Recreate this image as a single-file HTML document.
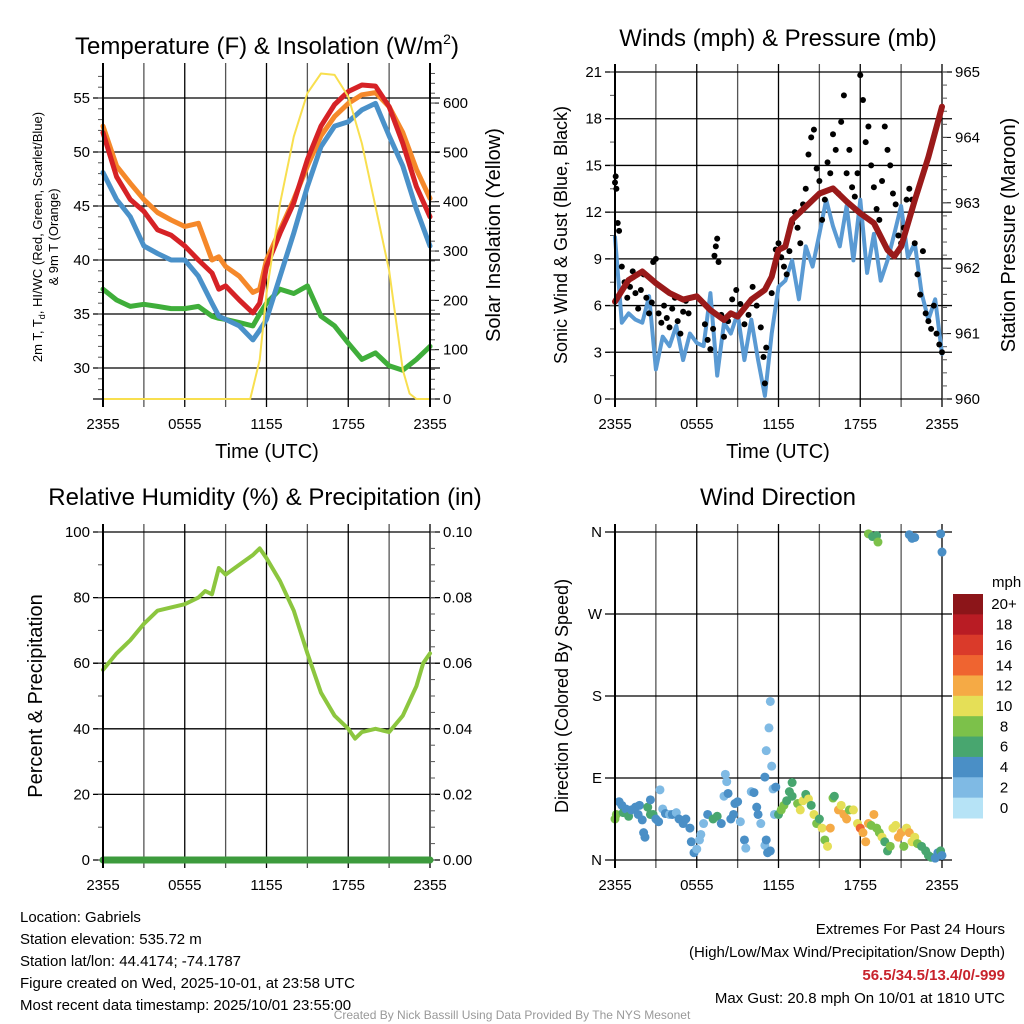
<!DOCTYPE html>
<html><head><meta charset="utf-8">
<style>
html,body{margin:0;padding:0;background:#fff;}
svg{display:block;font-family:"Liberation Sans",Arial,sans-serif;}
</style></head>
<body>
<svg id="fig" width="1024" height="1024" viewBox="0 0 1024 1024" xmlns="http://www.w3.org/2000/svg">
<rect width="1024" height="1024" fill="#fff"/>
<g id="layer"></g>
<text x="267" y="54" font-size="24" text-anchor="middle">Temperature (F) &amp; Insolation (W/m<tspan font-size="14" dy="-10">2</tspan><tspan dy="10">)</tspan></text>
<text x="778" y="46" font-size="24" text-anchor="middle">Winds (mph) &amp; Pressure (mb)</text>
<text x="265" y="505" font-size="24" text-anchor="middle">Relative Humidity (%) &amp; Precipitation (in)</text>
<text x="778" y="505" font-size="24" text-anchor="middle">Wind Direction</text>
<text x="267" y="458" font-size="20" text-anchor="middle">Time (UTC)</text>
<text x="778" y="458" font-size="20" text-anchor="middle">Time (UTC)</text>
<g font-size="13" text-anchor="middle">
<text transform="translate(42,237) rotate(-90)">2m T, T<tspan font-size="9" dy="3">d</tspan><tspan dy="-3">, HI/WC (Red, Green, Scarlet/Blue)</tspan></text>
<text transform="translate(58,237) rotate(-90)">&amp; 9m T (Orange)</text>
</g>
<text transform="translate(500,235) rotate(-90)" font-size="20" text-anchor="middle">Solar Insolation (Yellow)</text>
<text transform="translate(567,235) rotate(-90)" font-size="18" text-anchor="middle">Sonic Wind &amp; Gust (Blue, Black)</text>
<text transform="translate(1015,235) rotate(-90)" font-size="20" text-anchor="middle">Station Pressure (Maroon)</text>
<text transform="translate(42,696) rotate(-90)" font-size="20" text-anchor="middle">Percent &amp; Precipitation</text>
<text transform="translate(568,696) rotate(-90)" font-size="18" text-anchor="middle">Direction (Colored By Speed)</text>
<g font-size="15">
<text x="20" y="922">Location: Gabriels</text>
<text x="20" y="944">Station elevation: 535.72 m</text>
<text x="20" y="966">Station lat/lon: 44.4174; -74.1787</text>
<text x="20" y="988">Figure created on Wed, 2025-10-01, at 23:58 UTC</text>
<text x="20" y="1010">Most recent data timestamp: 2025/10/01 23:55:00</text>
</g>
<g font-size="15" text-anchor="end">
<text x="1005" y="934">Extremes For Past 24 Hours</text>
<text x="1005" y="957">(High/Low/Max Wind/Precipitation/Snow Depth)</text>
<text x="1005" y="980" fill="#c8232c" font-weight="bold">56.5/34.5/13.4/0/-999</text>
<text x="1005" y="1003">Max Gust: 20.8 mph On 10/01 at 1810 UTC</text>
</g>
<text x="512" y="1019" font-size="12" fill="#999" text-anchor="middle">Created By Nick Bassill Using Data Provided By The NYS Mesonet</text>
</svg>
<script>
// ---------- data ----------
const xTickLabels = ["2355","0555","1155","1755","2355"];
const tempHours = [0,1,2,3,4,5,6,7,8,8.5,9,10,11,11.5,12,13,14,15,16,17,18,19,20,21,22,23,24];
const tempRed    = [51.8,47.7,45.6,44.5,42.8,42.3,41.3,40,38.8,37.3,37.6,36.3,35.1,36,39.4,42.5,45.3,49.3,52.4,54.4,55.6,56.2,56.1,54.2,50.8,46.8,44];
const tempOrange = [52.4,48.7,47.1,45.6,44.4,43.7,43.1,43.4,40,40.3,39.4,38.5,37,37.3,40,42.8,45.6,48.7,51.5,53.3,54.5,55.3,55.5,54.2,51.8,48.4,45.7];
const tempBlue   = [48.1,45.6,44,41.3,40.6,40,40,38.5,36,34.8,34.5,33.9,32.6,33.5,34.5,38.5,42.5,46.8,50.5,52.4,52.8,53.9,54.5,51.5,48.7,44.7,41.3];
const tempGreen  = [37.3,36.3,35.7,35.9,35.7,35.5,35.5,35.7,34.8,34.6,34.5,34.2,33.9,35,36,37.3,36.9,37.6,34.8,33.9,32.3,30.8,31.4,30.2,29.8,30.8,32];
const solarHours = [0,10.8,11.5,12,13,14,15,16,17,18,19,20,21,22,22.5,23,24];
const solarVals  = [0,0,79,214,397,532,620,660,657,613,518,390,261,59,11,0,0];
const tempTicks = [30,35,40,45,50,55];
const solarTicks = [0,100,200,300,400,500,600];

const windHours = [0,0.5,1,1.5,2,2.5,3,3.5,4,4.5,5,5.5,6,6.5,7,7.5,8,8.5,9,9.5,10,10.5,11,11.5,12,12.5,13,13.5,14,14.5,15,15.5,16,16.5,17,17.5,18,18.5,19,19.5,20,20.5,21,21.5,22,22.5,23,23.5,24];
const windSpeed = [10.4,4.9,5.5,5.1,4.9,6.6,1.9,4,3.4,4.7,2.5,4.2,3.6,3.4,6.8,1.5,4.9,4.2,5.5,2.5,5.1,2.5,0.2,4.2,7.2,7.6,8.9,6.4,9.8,8.5,10.6,12.8,11.1,9.8,12.4,8.9,12.8,8.1,10.6,7.6,8.9,10.6,12.4,9.1,10,6.8,5.1,6.4,2.9];
const gustHours = [0,0.05,0.1,0.2,0.3,0.5,0.7,0.9,1.1,1.3,1.5,1.7,1.9,2.1,2.3,2.5,2.7,2.8,3,3.2,3.4,3.6,3.8,4,4.2,4.4,4.6,4.8,5,5.2,5.4,6.6,6.8,7,7.2,7.3,7.4,7.5,7.6,7.8,8,8.3,8.6,8.9,9.2,9.5,9.8,10.1,10.4,10.7,10.9,11,11.1,11.5,11.8,12,12.2,12.4,12.6,12.8,13,13.2,13.4,13.6,13.8,14,14.2,14.4,14.6,14.8,15,15.2,15.4,15.6,15.8,16,16.2,16.4,16.6,16.8,17,17.2,17.4,17.6,17.8,18,18.2,18.4,18.6,18.8,19,19.2,19.4,19.6,19.8,20,20.2,20.4,20.6,20.8,21,21.2,21.4,21.6,21.8,22,22.2,22.4,22.6,22.8,23,23.2,23.4,23.6,23.8,24];
const gustVals  = [13.9,14.3,13.5,11.3,10.8,8.5,7.5,6.5,7.2,8.2,6.8,5.8,7,8,6.5,5.5,6.2,8.8,9,5.5,4.9,6,5.2,4.6,5.8,6.5,5,4.2,5.6,6.3,5.5,4.8,3.8,3.2,4.5,9.2,9.8,10.3,8.8,5.4,4,5,6.4,7,6.1,4.8,5.4,7.2,6,4.6,2.7,1,3.3,6.8,9.6,10,9.1,8.5,8,9.5,11.3,12,11,10,12.5,13.5,15.7,16.8,17.3,14.8,14,11.5,12.8,15.2,14.5,17,16,13.2,17.8,19.5,14.5,16,13.6,13,14.5,20.8,19.2,16.5,17.5,15,13.6,12.2,11.5,14,17.5,16,15,13.2,12.5,10.5,10,11,12.8,13.5,12.8,10,8,6.7,9.5,5.5,5,4.5,6,4.2,3.5,3.0];
const presHours = [0,1,2,3,4,5,6,7,8,8.5,9,10,11,11.5,12,12.5,13,14,15,16,17,18,19,20,20.5,21,22,23,24];
const presVals  = [961.49,961.82,961.95,961.77,961.62,961.52,961.57,961.36,961.21,961.31,961.26,961.52,961.67,961.87,962.28,962.33,962.74,962.94,963.14,963.22,963.02,962.84,962.69,962.28,962.18,962.33,963.04,963.7,964.47];
const windTicks = [0,3,6,9,12,15,18,21];
const presTicks = [960,961,962,963,964,965];

const rhHours = [0,1,2,3,4,5,6,7,7.5,8,8.5,9,10,11,11.5,12,13,14,15,16,17,18,18.5,19,20,21,22,23,23.5,24];
const rhVals  = [58,63,67,72,76,77,78,80,82,81,89,87,90,93,95,92,85,76,63,51,44,40,37,39,40,39,44,53,60,63];
const precipHours = [0,24];
const precipVals = [0,0];
const rhTicks = [0,20,40,60,80,100];
const precipTicks = ["0.00","0.02","0.04","0.06","0.08","0.10"];

const dirHours = [0,0.1,0.3,0.5,0.6,0.8,1,1.2,1.5,1.7,1.8,2,2.1,2.2,2.4,2.6,2.8,2.6,3,3.2,3.3,3.5,3.7,4,4.2,4.5,4.7,5,5.2,5.5,5.6,5.8,6,6.2,6.3,6.5,6.8,7.2,7.5,7.8,8,8.1,8.2,8.3,8.5,8.7,8.8,9,9.2,9.5,9.6,10,10.2,10.4,10.5,10.7,11,11.1,11.2,11.4,11,11.1,11.3,11.4,11.5,11.6,11.8,11.7,12,12.2,12.4,12.6,12.8,13,13,13.4,13.6,13.8,14,14.2,14.4,14.6,14.8,15,15.2,15.4,15.6,15.8,16,16.1,16.4,16.6,16.8,17,17.2,17.5,17.8,18,18.2,18.4,18.6,18.8,19,19.2,19.4,19.6,19.8,20,20.2,20.4,20.6,20.8,21,21.2,21.4,21.6,21.8,22,22.2,22.5,22.8,23,23.2,23.5,23.7,23.9,24,18.6,18.9,19.2,19.3,21.6,21.8,22,23.9,24];
const dirVals  = [45,50,64,60,52,56,48,55,58,50,60,44,30,25,58,50,50,66,45,42,77,56,51,50,50,52,45,40,45,35,20,8,12,22,28,40,50,45,48,40,70,94,86,73,45,50,62,64,42,22,13,75,74,58,50,40,16,22,8,10,91,120,145,174,103,78,80,50,50,55,60,65,75,85,70,62,55,65,72,67,60,50,40,45,35,22,15,35,68,70,55,60,50,45,55,55,40,35,30,20,40,38,50,35,30,25,20,10,15,35,38,25,30,15,35,30,20,25,18,15,10,5,3,2,8,10,5,358,355,356,349,357,353,354,358,338];
const dirSpeed = [9,8,5,4,6,5,6,4,5,5,4,4,4,4,6,6,6,4,4,4,3,3,4,3,4,3,4,4,4,4,4,4,3,3,3,3,4,6,6,4,2,2,2,4,4,4,4,4,3,4,3,3,4,4,4,3,3,4,4,4,4,2,2,2,2,2,4,2,6,8,8,6,6,6,6,8,10,10,6,10,6,10,8,6,10,8,10,12,8,6,12,10,12,12,8,10,10,14,12,12,12,8,12,8,8,10,6,6,8,10,10,12,12,8,10,12,10,10,8,6,6,6,6,4,4,6,4,8,6,6,8,4,4,4,4,4];
const dirTicks = ["N","E","S","W","N"];
const speedLabels = ["0","2","4","6","8","10","12","14","16","18","20+"];
const speedColors = ["#b6e3f6","#7fbae4","#4a8fc6","#48a66f","#7cc14a","#e5df57","#f5aa45","#ef6430","#da3a2a","#b91c24","#8c1519"];

// ---------- drawing ----------
const NS = "http://www.w3.org/2000/svg";
const layer = document.getElementById("layer");
function mk(tag, attrs, parent) {
  const e = document.createElementNS(NS, tag);
  for (const k in attrs) e.setAttribute(k, attrs[k]);
  (parent || layer).appendChild(e);
  return e;
}
function group(name) {
  const g = mk("g", {});
  
  
  return g;
}
function linScale(d0, d1, r0, r1) { return v => r0 + (v - d0) / (d1 - d0) * (r1 - r0); }
function pathFrom(xs, ys, sx, sy) {
  return xs.map((h, i) => (i ? "L" : "M") + sx(h).toFixed(1) + "," + sy(ys[i]).toFixed(1)).join(" ");
}

const P1 = {x0:103,x1:430,y0:71,y1:399};
const P2 = {x0:615,x1:942,y0:72,y1:399};
const P3 = {x0:103,x1:430,y0:532,y1:860};
const P4 = {x0:615,x1:942,y0:532,y1:860};

function frame(P, name, hLines) {
  const g = group(name + "-grid");
  const sx = linScale(0, 24, P.x0, P.x1);
  for (let h = 0; h <= 24; h += 3) {
    const l = mk("line", {x1:sx(h), x2:sx(h), y1:P.y0-8, y2:P.y1+8, stroke:(h%6===0)?"#000":"#555", "stroke-width":1.3}, g);
    
    
  }
  hLines.forEach(y => {
    const l = mk("line", {x1:P.x0-10, x2:P.x1+10, y1:y, y2:y, stroke:"#000", "stroke-width":1.3}, g);
    
    
  });
  const xl = group(name + "-x-tick-labels");
  xTickLabels.forEach((t, i) => {
    const tx = mk("text", {x:sx(i*6), y:P.y1+30, "font-size":15, "text-anchor":"middle"}, xl);
    tx.textContent = t;
    
    
  });
  return sx;
}
function leftTicks(P, vals, sy, labels, name, minorStep, d0, d1) {
  const g = group(name);
  vals.forEach((v, i) => {
    mk("line", {x1:P.x0-9, x2:P.x0, y1:sy(v), y2:sy(v), stroke:"#000", "stroke-width":1}, g);
    const t = mk("text", {x:P.x0-13, y:sy(v)+5, "font-size":15, "text-anchor":"end"}, g);
    t.textContent = labels ? labels[i] : v;
    
    
  });
  if (minorStep) for (let v = Math.ceil(d0); v <= d1; v += minorStep) mk("line", {x1:P.x0-5, x2:P.x0, y1:sy(v), y2:sy(v), stroke:"#555", "stroke-width":1}, g);
}
function rightTicks(P, vals, sy, labels, name, minorStep, d0, d1) {
  const g = group(name);
  vals.forEach((v, i) => {
    mk("line", {x1:P.x1, x2:P.x1+9, y1:sy(v), y2:sy(v), stroke:"#000", "stroke-width":1}, g);
    const t = mk("text", {x:P.x1+13, y:sy(v)+5, "font-size":15, "text-anchor":"start"}, g);
    t.textContent = labels ? labels[i] : v;
    
    
  });
  if (minorStep) for (let v = d0; v <= d1 + 1e-9; v += minorStep) mk("line", {x1:P.x1, x2:P.x1+5, y1:sy(v), y2:sy(v), stroke:"#555", "stroke-width":1}, g);
}
function series(d, color, w, name, parent) {
  const p = mk("path", {d:d, fill:"none", stroke:color, "stroke-width":w, "stroke-linejoin":"round", "stroke-linecap":"round"}, parent);
  
  
  return p;
}

// Panel 1
{
  const sy = linScale(27.13, 57.5, P1.y1, P1.y0);
  const sr = linScale(0, 665, P1.y1, P1.y0);
  const sx = frame(P1, "temp", tempTicks.map(sy).concat([P1.y1]));
  leftTicks(P1, tempTicks, sy, null, "temp-y-ticks", 1, 28, 57);
  rightTicks(P1, solarTicks, sr, null, "solar-y-ticks", 20, 0, 660);
  const g = group("temp-series");
  series(pathFrom(tempHours, tempGreen, sx, sy), "#3fae3a", 5, "heat-index-line", g);
  series(pathFrom(tempHours, tempBlue, sx, sy), "#4a91c9", 5, "dewpoint-line", g);
  series(pathFrom(tempHours, tempOrange, sx, sy), "#f5882a", 5, "temp-9m-line", g);
  series(pathFrom(tempHours, tempRed, sx, sy), "#d62226", 5, "temp-2m-line", g);
  series(pathFrom(solarHours, solarVals, sx, sr), "#f8df4f", 2, "solar-line", g);
  mk("line", {x1:P1.x0, x2:P1.x0, y1:P1.y0-8, y2:P1.y1+8, stroke:"#000", "stroke-width":2});
  mk("line", {x1:P1.x1, x2:P1.x1, y1:P1.y0-8, y2:P1.y1+8, stroke:"#000", "stroke-width":2});
}
// Panel 2
{
  const sy = linScale(0, 21, P2.y1, P2.y0);
  const sp = linScale(960, 965, P2.y1, P2.y0);
  const sx = frame(P2, "wind", windTicks.map(sy));
  leftTicks(P2, windTicks, sy, null, "wind-y-ticks", 1.5, 0, 21);
  rightTicks(P2, presTicks, sp, null, "pressure-y-ticks", 0.2, 960, 965);
  const g = group("wind-series");
  series(pathFrom(windHours, windSpeed, sx, sy), "#5a9ad3", 4, "sonic-wind-line", g);
  gustHours.forEach((h, i) => {
    if (gustVals[i] === undefined) return;
    const c = mk("circle", {cx:sx(h), cy:sy(gustVals[i]), r:3, fill:"#000"}, g);
    
    
  });
  series(pathFrom(presHours, presVals, sx, sp), "#9a1a1a", 6, "pressure-line", g);
  mk("line", {x1:P2.x0, x2:P2.x0, y1:P2.y0-8, y2:P2.y1+8, stroke:"#000", "stroke-width":2});
}
// Panel 3
{
  const sy = linScale(0, 100, P3.y1, P3.y0);
  const sx = frame(P3, "rh", rhTicks.map(sy));
  leftTicks(P3, rhTicks, sy, null, "rh-y-ticks", 10, 0, 100);
  rightTicks(P3, rhTicks, sy, precipTicks, "precip-y-ticks", 5, 0, 100);
  const g = group("rh-series");
  series(pathFrom(rhHours, rhVals, sx, sy), "#8cc63f", 4, "relative-humidity-line", g);
  const sPr = linScale(0, 0.1, P3.y1, P3.y0);
  series(pathFrom(precipHours, precipVals, sx, sPr), "#3d9b3d", 7, "precipitation-line", g);
  mk("line", {x1:P3.x0, x2:P3.x0, y1:P3.y0-8, y2:P3.y1+8, stroke:"#000", "stroke-width":2});
}
// Panel 4
{
  const sy = linScale(0, 360, P4.y1, P4.y0);
  const sx = frame(P4, "direction", [0,90,180,270,360].map(sy));
  leftTicks(P4, [0,90,180,270,360], sy, dirTicks, "direction-y-ticks");
  const g = group("direction-points");
  dirHours.forEach((h, i) => {
    if (dirVals[i] === undefined) return;
    const spd = dirSpeed[i] === undefined ? 4 : dirSpeed[i];
    const bin = Math.min(10, Math.floor(spd / 2));
    const c = mk("circle", {cx:sx(h), cy:sy(dirVals[i]), r:4.5, fill:speedColors[bin]}, g);
    
    
  });
  mk("line", {x1:P4.x0, x2:P4.x0, y1:P4.y0-8, y2:P4.y1+8, stroke:"#000", "stroke-width":2});
  // colorbar
  const cb = group("speed-colorbar");
  const top = 594, h = 224 / 11;
  for (let k = 0; k < 11; k++) {
    const colorIdx = 10 - k; // top is 20+
    const r = mk("rect", {x:953, y:top + k*h, width:30, height:h+0.5, fill:speedColors[colorIdx]}, cb);
    
    
    const t = mk("text", {x:1004, y:top + k*h + h/2 + 5, "font-size":15, "text-anchor":"middle"}, cb);
    t.textContent = speedLabels[colorIdx];
    
    
  }
  const mph = mk("text", {x:992, y:587, "font-size":15}, cb);
  mph.textContent = "mph";
  
  
}
</script>
</body></html>
